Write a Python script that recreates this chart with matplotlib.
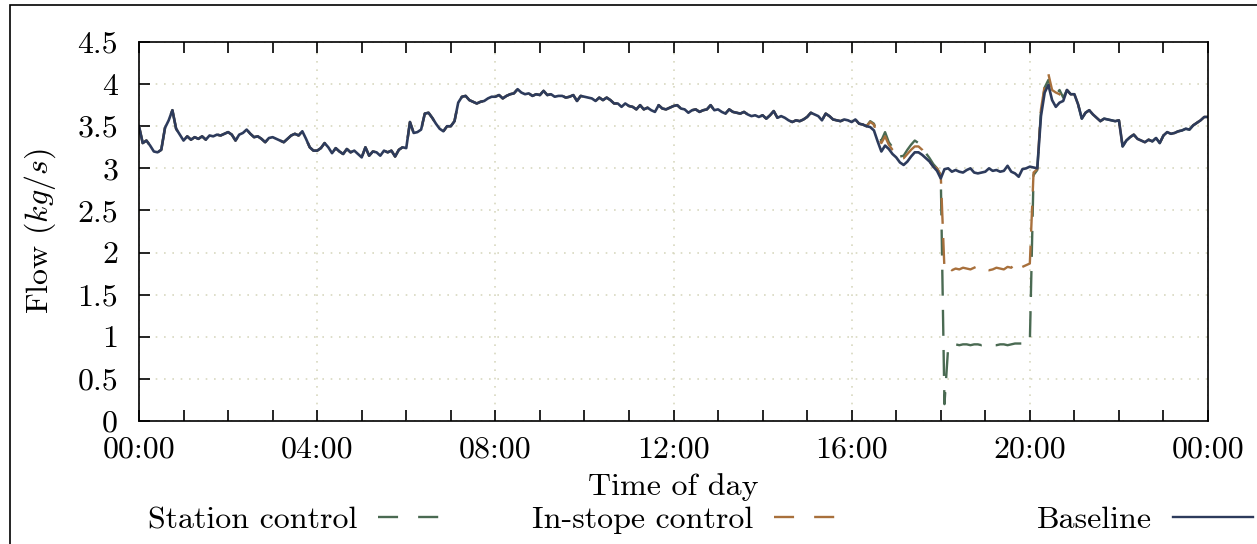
import numpy as np
import matplotlib
matplotlib.use("Agg")
import matplotlib.pyplot as plt
from matplotlib.lines import Line2D
from matplotlib.patches import Rectangle
from matplotlib.ticker import MultipleLocator, FuncFormatter

plt.rcParams["font.family"] = ["cmr10", "DejaVu Serif"]
plt.rcParams["mathtext.fontset"] = "cm"
plt.rcParams["axes.formatter.use_mathtext"] = True

# flow in kg/s, one sample every 5 minutes, one row per hour (00:00 .. 24:00)
baseline = [
    3.50, 3.30, 3.33, 3.27, 3.20, 3.19, 3.22, 3.48, 3.57, 3.69, 3.47, 3.40,
    3.33, 3.38, 3.34, 3.37, 3.35, 3.38, 3.34, 3.39, 3.38, 3.40, 3.39, 3.41,
    3.43, 3.40, 3.33, 3.40, 3.42, 3.46, 3.41, 3.37, 3.38, 3.35, 3.31, 3.36,
    3.37, 3.35, 3.33, 3.31, 3.35, 3.39, 3.41, 3.39, 3.44, 3.35, 3.25, 3.21,
    3.21, 3.24, 3.30, 3.25, 3.18, 3.24, 3.20, 3.17, 3.23, 3.19, 3.21, 3.17,
    3.13, 3.25, 3.15, 3.20, 3.19, 3.15, 3.21, 3.19, 3.21, 3.14, 3.22, 3.25,
    3.24, 3.55, 3.42, 3.43, 3.46, 3.65, 3.66, 3.60, 3.53, 3.47, 3.44, 3.50,
    3.50, 3.56, 3.78, 3.85, 3.86, 3.81, 3.79, 3.77, 3.79, 3.80, 3.83, 3.85,
    3.85, 3.87, 3.83, 3.86, 3.88, 3.89, 3.94, 3.90, 3.88, 3.89, 3.86, 3.88,
    3.87, 3.92, 3.87, 3.88, 3.85, 3.86, 3.86, 3.84, 3.85, 3.87, 3.80, 3.86,
    3.85, 3.84, 3.83, 3.80, 3.84, 3.81, 3.84, 3.81, 3.77, 3.77, 3.73, 3.77,
    3.74, 3.73, 3.70, 3.75, 3.70, 3.72, 3.69, 3.67, 3.75, 3.71, 3.70, 3.72,
    3.74, 3.75, 3.71, 3.70, 3.66, 3.69, 3.70, 3.67, 3.69, 3.70, 3.75, 3.69,
    3.70, 3.67, 3.65, 3.70, 3.67, 3.66, 3.65, 3.67, 3.64, 3.62, 3.63, 3.61,
    3.63, 3.59, 3.63, 3.68, 3.60, 3.62, 3.60, 3.57, 3.55, 3.57, 3.56, 3.58,
    3.61, 3.66, 3.64, 3.62, 3.57, 3.65, 3.62, 3.58, 3.57, 3.56, 3.58, 3.57,
    3.55, 3.58, 3.53, 3.52, 3.50, 3.49, 3.45, 3.32, 3.20, 3.27, 3.23, 3.17,
    3.13, 3.07, 3.04, 3.08, 3.14, 3.19, 3.19, 3.16, 3.12, 3.08, 3.02, 2.97,
    2.88, 2.99, 3.00, 2.96, 2.98, 2.96, 2.95, 2.98, 3.00, 2.95, 2.94, 2.95,
    2.96, 3.00, 2.97, 2.98, 2.96, 2.97, 3.03, 2.96, 2.94, 2.90, 2.99, 3.00,
    3.02, 3.01, 3.00, 3.62, 3.90, 3.99, 3.81, 3.73, 3.78, 3.80, 3.93, 3.88,
    3.88, 3.76, 3.59, 3.66, 3.69, 3.64, 3.60, 3.56, 3.59, 3.58, 3.57, 3.56,
    3.57, 3.26, 3.33, 3.37, 3.40, 3.35, 3.33, 3.31, 3.34, 3.32, 3.36, 3.30,
    3.39, 3.43, 3.41, 3.42, 3.44, 3.45, 3.47, 3.46, 3.51, 3.54, 3.57, 3.61,
    3.61,
]

# controlled runs differ from baseline only between 16:25 and 20:55
ctrl_start, ctrl_end = 197, 252
instope_window = [
    3.55, 3.52, 3.38, 3.30, 3.38, 3.28, 3.22,
    3.18, 3.12, 3.12, 3.17, 3.22, 3.26, 3.26, 3.22, 3.14, 3.08, 3.02, 3.00,
    2.92,
    1.80, 1.83, 1.79, 1.81, 1.80, 1.82, 1.81, 1.80, 1.82, 1.84, 1.81, 1.80,
    1.79, 1.80, 1.82, 1.81, 1.80, 1.83, 1.82, 1.87, 1.81, 1.83, 1.85,
    1.87, 2.95, 2.99, 3.70, 3.98, 4.12, 3.93, 3.90, 3.88, 3.82, 3.93, 3.88,
]
station_window = [
    3.56, 3.53, 3.40, 3.33, 3.43, 3.31, 3.25,
    3.18, 3.14, 3.15, 3.22, 3.28, 3.33, 3.30, 3.24, 3.18, 3.12, 3.05, 3.00,
    2.92,
    0.20, 0.88, 0.91, 0.91, 0.90, 0.91, 0.91, 0.90, 0.91, 0.91, 0.90, 0.91,
    0.91, 0.90, 0.90, 0.91, 0.91, 0.90, 0.91, 0.92, 0.92, 0.92, 0.93,
    0.93, 2.92, 2.98, 3.68, 3.96, 4.05, 3.92, 3.87, 3.93, 3.84, 3.93, 3.88,
]

instope = baseline[:ctrl_start] + instope_window + baseline[ctrl_end:]
station = baseline[:ctrl_start] + station_window + baseline[ctrl_end:]
hours = np.arange(len(baseline)) * 5 / 60

c_base = "#2d3b5c"
c_station = "#4a6a52"
c_instope = "#a8703c"
dash = (0, (11, 6))
fs = 23

fig = plt.figure(figsize=(12.57, 5.44), dpi=100)
ax = fig.add_axes([139 / 1257, 1 - 421 / 544, (1208 - 139) / 1257, (421 - 42) / 544])

ax.plot(hours, station, color=c_station, lw=1.7, linestyle=dash)
ax.plot(hours, instope, color=c_instope, lw=1.7, linestyle=dash)
ax.plot(hours, baseline, color=c_base, lw=1.9)

ax.set_xlim(0, 24)
ax.set_ylim(0, 4.5)
ax.xaxis.set_major_locator(MultipleLocator(4))
ax.xaxis.set_minor_locator(MultipleLocator(1))
ax.yaxis.set_major_locator(MultipleLocator(0.5))
ax.xaxis.set_major_formatter(FuncFormatter(lambda v, p: "%02d:00" % (int(round(v)) % 24)))
ax.yaxis.set_major_formatter(FuncFormatter(lambda v, p: "%g" % v))
ax.tick_params(which="both", direction="in", top=True, right=False, length=8, width=1.2)
ax.tick_params(axis="y", labelsize=fs, pad=15)
ax.tick_params(axis="x", labelsize=fs, pad=11)
ax.grid(True, which="major", linestyle=(0, (1, 4)), color="#d8d8c0", lw=1.2)
for s in ax.spines.values():
    s.set_linewidth(1.2)
# the "0" on the y axis sits a touch higher so it clears the first time label
ax.get_yticklabels()[0].set_va("baseline")
for t in ax.get_yticklabels():
    t.set_va("center_baseline")

ax.set_xlabel("Time of day", fontsize=fs, labelpad=7)
ax.set_ylabel("Flow ($kg/s$)", fontsize=fs, labelpad=14)

# legend across the bottom, gnuplot style: label then sample
entries = [
    ("Station control", c_station, (0, (8.5, 8.5)), 440, 1.95),
    ("In-stope control", c_instope, (0, (8.5, 8.5)), 836, 1.95),
    ("Baseline", c_base, "-", 1253, 2.5),
]
for label, col, ls, xr, hl in entries:
    h = Line2D([], [], color=col, lw=1.7, linestyle=ls)
    fig.legend([h], [label], loc="center right", bbox_to_anchor=(xr / 1257, 24 / 544),
               frameon=False, markerfirst=False, fontsize=fs, handlelength=hl,
               handletextpad=0.65, borderpad=0, borderaxespad=0)

fig.patches.append(Rectangle((10 / 1257, -0.1), 1.2, 1.1 - 5 / 544, transform=fig.transFigure,
                             fill=False, edgecolor="black", lw=1.2))

fig.savefig("out.png", dpi=100)
